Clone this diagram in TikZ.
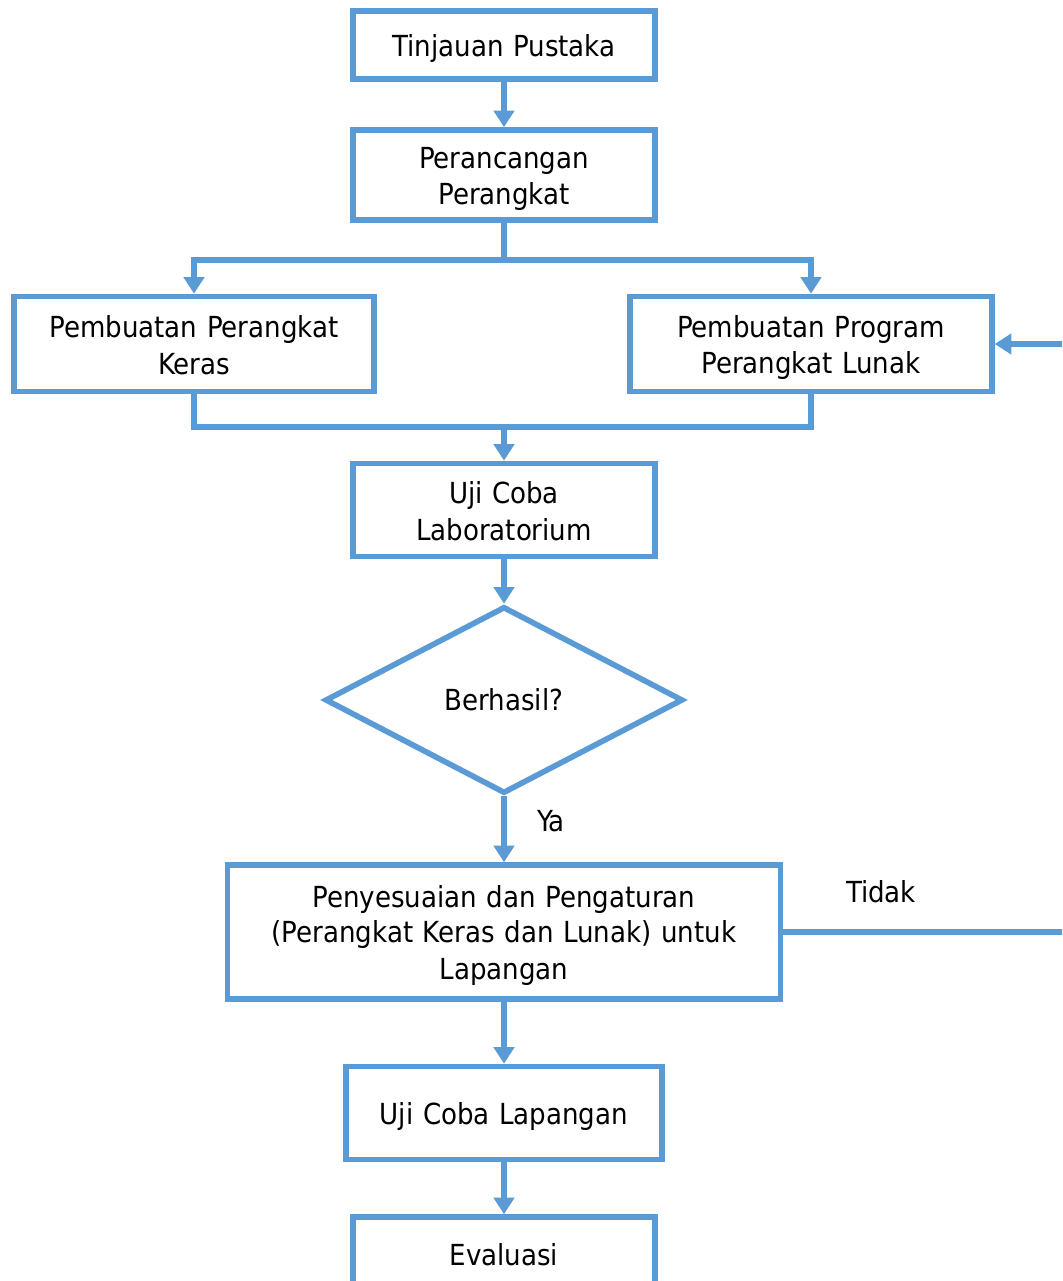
\documentclass[tikz,border=0pt]{standalone}
\usepackage{fontspec}
\setmainfont{DejaVu Sans Condensed}
\usetikzlibrary{arrows.meta,shapes.geometric}
\definecolor{flowblue}{HTML}{5B9BD5}
\newcommand{\fstrut}{\rule[-0.1cm]{0pt}{0.68cm}}

\begin{document}
\begin{tikzpicture}[line cap=butt,line join=miter,>={Triangle[length=0.33cm,width=0.4cm]},x=0.02cm,y=-0.02cm,
	box/.style={draw=flowblue,line width=3.2pt,rectangle,align=center,inner sep=0pt,minimum width=#1,text width=#1-0.4cm,
		font=\fontsize{16.5}{19.8}\selectfont,execute at begin node=\fstrut,execute at end node=\fstrut},
	decision/.style={draw=flowblue,line width=3.2pt,diamond,inner sep=0pt,minimum width=7.16cm,minimum height=3.74cm,font=\fontsize{16.5}{19.8}\selectfont},
	flow/.style={draw=flowblue,line width=3.2pt,->},
	link/.style={draw=flowblue,line width=3.2pt},
	lbl/.style={font=\fontsize{16.5}{19.8}\selectfont}]
		\useasboundingbox (0,0) rectangle (1062,1281);
		\clip (0,0) rectangle (1062,1281);
		\node[box=6.05cm,minimum height=1.37cm] (tinjauan) at (504,45) {Tinjauan Pustaka};
		\node[box=6.05cm,minimum height=1.8cm] (rancang) at (504,175) {Perancangan\\Perangkat};
		\node[box=7.2cm,minimum height=1.9cm] (keras) at (194,344) {Pembuatan Perangkat\\Keras};
		\node[box=7.24cm,minimum height=1.9cm] (lunak) at (811,344) {Pembuatan Program\\Perangkat Lunak};
		\node[box=6.04cm,minimum height=1.86cm] (lab) at (504,510) {Uji Coba\\Laboratorium};
		\node[decision] (hasil) at (504,700) {Berhasil?};
		\node[box=11.06cm,minimum height=2.68cm] (sesuai) at (504,932) {Penyesuaian dan Pengaturan\\(Perangkat Keras dan Lunak) untuk\\Lapangan};
		\node[box=6.32cm,minimum height=1.86cm] (lapangan) at (504,1113) {Uji Coba Lapangan};
		\node[box=6.04cm,minimum height=1.44cm] (evaluasi) at (504,1253) {Evaluasi};
		\node[lbl] (ya) at (551,821) {Ya};
		\node[lbl] (tidak) at (881,892) {Tidak};
		\coordinate (split) at (504,260);
		\coordinate (join) at (504,427);
		\coordinate (back) at (1100,932);
		\draw[flow] (tinjauan) -- (rancang);
		\draw[flow] (rancang) -- (split) -| (keras);
		\draw[flow] (split) -| (lunak);
		\draw[link] (keras) |- (join) -| (lunak);
		\draw[flow] (join) -- (lab);
		\draw[flow] (lab) -- (hasil);
		\draw[flow] (hasil) -- (sesuai);
		\draw[flow] (sesuai.east) -- (back) |- (lunak.east);
		\draw[flow] (sesuai) -- (lapangan);
		\draw[flow] (lapangan) -- (evaluasi);
	\end{tikzpicture}
\end{document}
